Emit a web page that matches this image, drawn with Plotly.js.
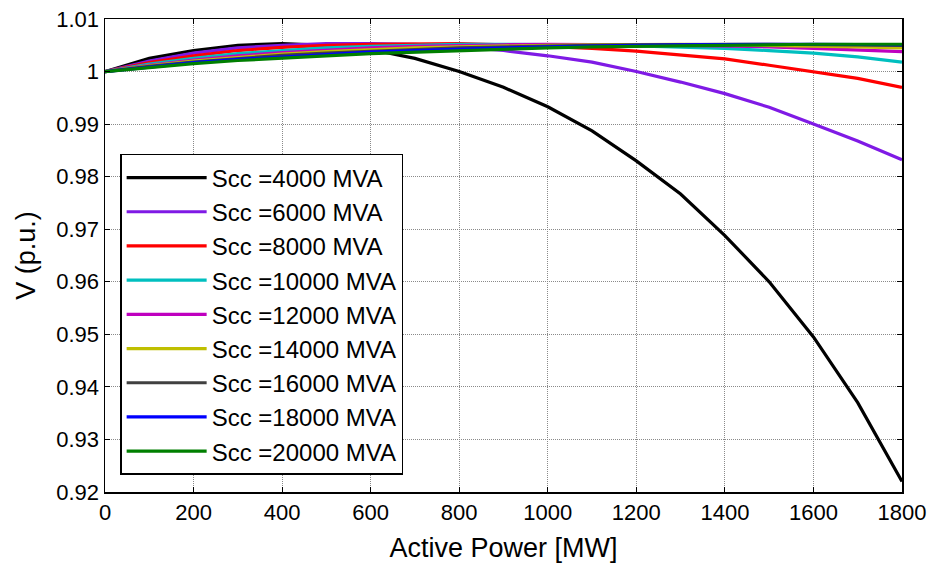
<!DOCTYPE html>
<html>
<head>
<meta charset="utf-8">
<script src="https://cdn.plot.ly/plotly-3.0.1.min.js"></script>
<style>
html,body{margin:0;padding:0;background:#fff;}
#chart{width:930px;height:568px;}
</style>
</head>
<body>
<div id="chart"></div>
<script>
// Active power (MW)
const power = [0,100,200,300,400,500,600,700,800,900,1000,1100,1200,1300,1400,1500,1600,1700,1800];

const seriesNames = ["Scc =4000 MVA","Scc =6000 MVA","Scc =8000 MVA","Scc =10000 MVA","Scc =12000 MVA","Scc =14000 MVA","Scc =16000 MVA","Scc =18000 MVA","Scc =20000 MVA"];
const seriesColors = ["#000000","#7f1ae5","#ff0000","#00bfbf","#bf00bf","#bfbf00","#404040","#0000ff","#007f00"];

const v4000  = [1.0000,1.0025,1.0040,1.0050,1.0053,1.0050,1.0042,1.0025,1.0000,0.9970,0.9933,0.9887,0.9830,0.9767,0.9688,0.9600,0.9495,0.9370,0.9220];
const v6000  = [1.0000,1.0020,1.0035,1.0045,1.0050,1.0053,1.0053,1.0052,1.0047,1.0040,1.0030,1.0018,1.0000,0.9980,0.9958,0.9932,0.9900,0.9868,0.9832];
const v8000  = [1.0000,1.0017,1.0030,1.0040,1.0046,1.0050,1.0052,1.0053,1.0053,1.0051,1.0048,1.0044,1.0039,1.0032,1.0024,1.0012,1.0000,0.9987,0.9970];
const v10000 = [1.0000,1.0014,1.0025,1.0034,1.0040,1.0045,1.0048,1.0050,1.0052,1.0052,1.0052,1.0051,1.0049,1.0047,1.0044,1.0040,1.0035,1.0028,1.0018];
const v12000 = [1.0000,1.0012,1.0022,1.0030,1.0036,1.0041,1.0045,1.0048,1.0050,1.0051,1.0052,1.0052,1.0051,1.0050,1.0049,1.0047,1.0044,1.0041,1.0038];
const v14000 = [1.0000,1.0011,1.0020,1.0027,1.0033,1.0038,1.0042,1.0045,1.0047,1.0049,1.0050,1.0051,1.0052,1.0052,1.0051,1.0050,1.0049,1.0047,1.0045];
const v16000 = [1.0000,1.0010,1.0018,1.0025,1.0031,1.0035,1.0039,1.0042,1.0045,1.0047,1.0049,1.0050,1.0051,1.0052,1.0052,1.0052,1.0051,1.0051,1.0050];
const v18000 = [1.0000,1.0009,1.0017,1.0023,1.0028,1.0033,1.0037,1.0040,1.0043,1.0045,1.0047,1.0049,1.0050,1.0051,1.0052,1.0052,1.0052,1.0052,1.0051];
const v20000 = [1.0000,1.0008,1.0015,1.0021,1.0026,1.0030,1.0034,1.0037,1.0040,1.0043,1.0045,1.0047,1.0048,1.0050,1.0051,1.0051,1.0052,1.0052,1.0052];

const seriesValues = [v4000,v6000,v8000,v10000,v12000,v14000,v16000,v18000,v20000];

const xTicks = [0,200,400,600,800,1000,1200,1400,1600,1800];
const yTicks = [0.92,0.93,0.94,0.95,0.96,0.97,0.98,0.99,1.00,1.01];
const yTickLabels = ["0.92","0.93","0.94","0.95","0.96","0.97","0.98","0.99","1","1.01"];

const traces = seriesValues.map((vals, i) => ({
  x: power, y: vals, type: 'scatter', mode: 'lines',
  name: seriesNames[i], legendgroup: 'g' + i,
  line: {color: seriesColors[i], width: 3.2}
}));

const font = "Arial, 'Liberation Sans', sans-serif";
const layout = {
  width: 930, height: 568,
  margin: {l: 105, r: 28, t: 19, b: 76},
  paper_bgcolor: '#ffffff', plot_bgcolor: '#ffffff',
  showlegend: true,
  legend: {
    x: 0.019, y: 0.036, xanchor: 'left', yanchor: 'bottom',
    bgcolor: '#ffffff', bordercolor: '#000000', borderwidth: 1.5,
    font: {family: font, size: 24, color: '#000'},
    tracegroupgap: 4, traceorder: 'normal', itemwidth: 80
  },
  xaxis: {
    range: [0, 1800], tickvals: xTicks, ticktext: xTicks.map(String),
    ticks: 'inside', ticklen: 5, tickcolor: '#000', mirror: 'allticks',
    showline: true, linecolor: '#000', linewidth: 1.5,
    showgrid: true, gridcolor: '#8a8a8a', griddash: '1px,1px', gridwidth: 1,
    zeroline: false,
    tickfont: {family: font, size: 22, color: '#000'},
    title: {text: 'Active Power [MW]', font: {family: font, size: 27, color: '#000'}, standoff: 14}
  },
  yaxis: {
    range: [0.92, 1.01], tickvals: yTicks, ticktext: yTickLabels,
    ticks: 'inside', ticklen: 5, tickcolor: '#000', mirror: 'allticks',
    showline: true, linecolor: '#000', linewidth: 1.5,
    showgrid: true, gridcolor: '#8a8a8a', griddash: '1px,1px', gridwidth: 1,
    zeroline: false,
    tickfont: {family: font, size: 22, color: '#000'},
    title: {text: 'V (p.u.)', font: {family: font, size: 27, color: '#000'}, standoff: 13}
  }
};

Plotly.newPlot('chart', traces, layout, {displayModeBar: false, staticPlot: true});
</script>
</body>
</html>
